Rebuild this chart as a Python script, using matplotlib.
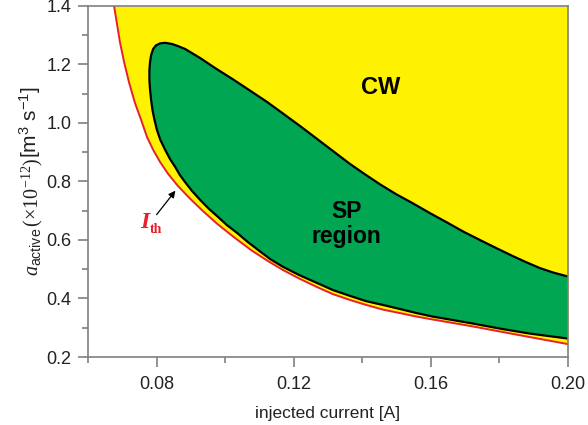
import numpy as np
import matplotlib
matplotlib.use("Agg")
import matplotlib.pyplot as plt

# --------------------------------------------------------------------------------
# DATA

# threshold current curve I_th
ith_current = [0.0676, 0.0685, 0.0693, 0.0705, 0.0720, 0.0737, 0.0755, 0.0772, 0.0790,
               0.0810, 0.0833, 0.0862, 0.0897, 0.0935, 0.0976, 0.1023, 0.1075, 0.1122,
               0.1169, 0.1218, 0.1268, 0.1314, 0.1364, 0.1411, 0.1460, 0.1510, 0.1559,
               0.1606, 0.1656, 0.1729, 0.1802, 0.1889, 0.2000]
ith_area = [1.400, 1.335, 1.277, 1.209, 1.137, 1.068, 1.010, 0.952, 0.908,
            0.867, 0.827, 0.785, 0.742, 0.699, 0.656, 0.612, 0.566, 0.530,
            0.497, 0.467, 0.439, 0.415, 0.395, 0.378, 0.362, 0.350, 0.338,
            0.328, 0.318, 0.303, 0.287, 0.268, 0.244]

# SP region, upper boundary (from the top of the lobe to the right edge)
sp_up_current = [0.0825, 0.0845, 0.0862, 0.0883, 0.0903, 0.0927, 0.0973, 0.1023, 0.1072,
                 0.1122, 0.1169, 0.1218, 0.1291, 0.1364, 0.1411, 0.1452, 0.1498, 0.1548,
                 0.1597, 0.1647, 0.1694, 0.1743, 0.1793, 0.1839, 0.1880, 0.1918, 0.1956,
                 0.2000]
sp_up_area = [1.274, 1.270, 1.263, 1.253, 1.239, 1.222, 1.186, 1.149, 1.111,
              1.072, 1.032, 0.990, 0.925, 0.860, 0.822, 0.790, 0.757, 0.725,
              0.692, 0.660, 0.629, 0.600, 0.571, 0.545, 0.523, 0.504, 0.489,
              0.475]

# SP region, lower boundary (from the top of the lobe round the left tip to the right edge)
sp_lo_current = [0.0825, 0.0810, 0.0798, 0.0790, 0.0784, 0.0781, 0.0779, 0.0779, 0.0781,
                 0.0784, 0.0788, 0.0794, 0.0801, 0.0811, 0.0825, 0.0839, 0.0854, 0.0868,
                 0.0883, 0.0903, 0.0927, 0.0953, 0.0979, 0.1005, 0.1035, 0.1064, 0.1096,
                 0.1131, 0.1169, 0.1218, 0.1268, 0.1314, 0.1364, 0.1411, 0.1460, 0.1510,
                 0.1559, 0.1606, 0.1656, 0.1729, 0.1802, 0.1889, 0.2000]
sp_lo_area = [1.274, 1.272, 1.265, 1.253, 1.232, 1.209, 1.181, 1.147, 1.113,
              1.079, 1.044, 1.010, 0.976, 0.942, 0.908, 0.877, 0.850, 0.822,
              0.798, 0.768, 0.737, 0.706, 0.679, 0.651, 0.624, 0.595, 0.566,
              0.535, 0.508, 0.479, 0.453, 0.429, 0.409, 0.391, 0.378, 0.364,
              0.350, 0.338, 0.328, 0.313, 0.297, 0.280, 0.263]

x_ticks = [0.08, 0.12, 0.16, 0.20]
y_ticks = [0.2, 0.4, 0.6, 0.8, 1.0, 1.2, 1.4]

# --------------------------------------------------------------------------------
# STYLE

plt.rcParams['font.family'] = ['Liberation Sans', 'DejaVu Sans']
plt.rcParams['mathtext.fontset'] = 'custom'
plt.rcParams['mathtext.rm'] = 'Liberation Serif'
plt.rcParams['mathtext.it'] = 'Liberation Serif:italic'
plt.rcParams['mathtext.sf'] = 'Liberation Sans'

yellow = '#fff200'
green = '#00a651'
red = '#e8202a'
grey = '#808080'
txt = '#222222'

fig = plt.figure(figsize=(5.88, 4.25), dpi=100)
ax = fig.add_axes([0.1497, 0.16, 0.8163, 0.826])

# CW region: everything above the threshold curve
ax.fill_between(ith_current, ith_area, 1.4, color=yellow, lw=0, zorder=1)

# SP region
poly_x = sp_up_current[::-1] + sp_lo_current
poly_y = sp_up_area[::-1] + sp_lo_area
ax.fill(poly_x, poly_y, facecolor=green, edgecolor='none', zorder=2)
ax.plot(poly_x, poly_y, color='black', lw=1.6, zorder=3, solid_joinstyle='round')

# threshold line
ax.plot(ith_current, ith_area, color=red, lw=1.4, zorder=4)

ax.set_xlim(0.06, 0.20)
ax.set_ylim(0.2, 1.4)
ax.set_xticks(x_ticks)
ax.set_xticklabels(['%.2f' % v for v in x_ticks])
ax.set_xticks(np.arange(0.06, 0.201, 0.02), minor=True)
ax.set_yticks(y_ticks)
ax.set_yticklabels(['%.1f' % v for v in y_ticks])
ax.set_yticks(np.arange(0.2, 1.41, 0.1), minor=True)

for s in ax.spines.values():
    s.set_color(grey)
    s.set_linewidth(1.2)
    s.set_zorder(5)
ax.tick_params(which='major', direction='out', length=7, width=1.2, color=grey,
               labelsize=13, labelcolor=txt)
ax.tick_params(axis='x', which='major', pad=7)
ax.tick_params(axis='y', which='major', pad=5)
ax.tick_params(which='minor', direction='out', length=4, width=1.2, color=grey)

ax.set_xlabel('injected current [A]', fontsize=12.5, color=txt, labelpad=9)

# y label in two pieces: serif part is larger than the unit part
fig.text(38 / 588, 1 - 276 / 425, r'$a_{\mathsf{active}}\,(\times 10^{-12})$', fontsize=14.5,
         color=txt, rotation=90, rotation_mode='anchor', ha='left', va='baseline')
fig.text(37 / 588, 1 - 158 / 425, r'[m$^{\mathsf{3}}$ s$^{\mathsf{-1}}$]', fontsize=15,
         color=txt, rotation=90, rotation_mode='anchor', ha='left', va='baseline')

ax.text(0.1452, 1.12, 'CW', fontsize=17, fontweight='bold', ha='center', va='center', zorder=6)
ax.text(0.1355, 0.655, 'SP\nregion', fontsize=16.5, fontweight='bold', ha='center', va='center',
        linespacing=1.1, zorder=6)

# I_th label with arrow
ax.annotate('', xy=(0.0860, 0.776), xytext=(0.0795, 0.679),
            arrowprops=dict(arrowstyle='-|>', color='black', lw=0.9, mutation_scale=10), zorder=6)
ax.text(0.0765, 0.641, 'I', color=red, fontsize=17, family='Liberation Serif',
        style='italic', fontweight='bold', ha='center', va='baseline', zorder=6)
ax.text(0.0781, 0.624, 'th', color=red, fontsize=10, family='Liberation Serif',
        fontweight='bold', ha='left', va='baseline', zorder=6)

fig.savefig('out.png', dpi=100)
